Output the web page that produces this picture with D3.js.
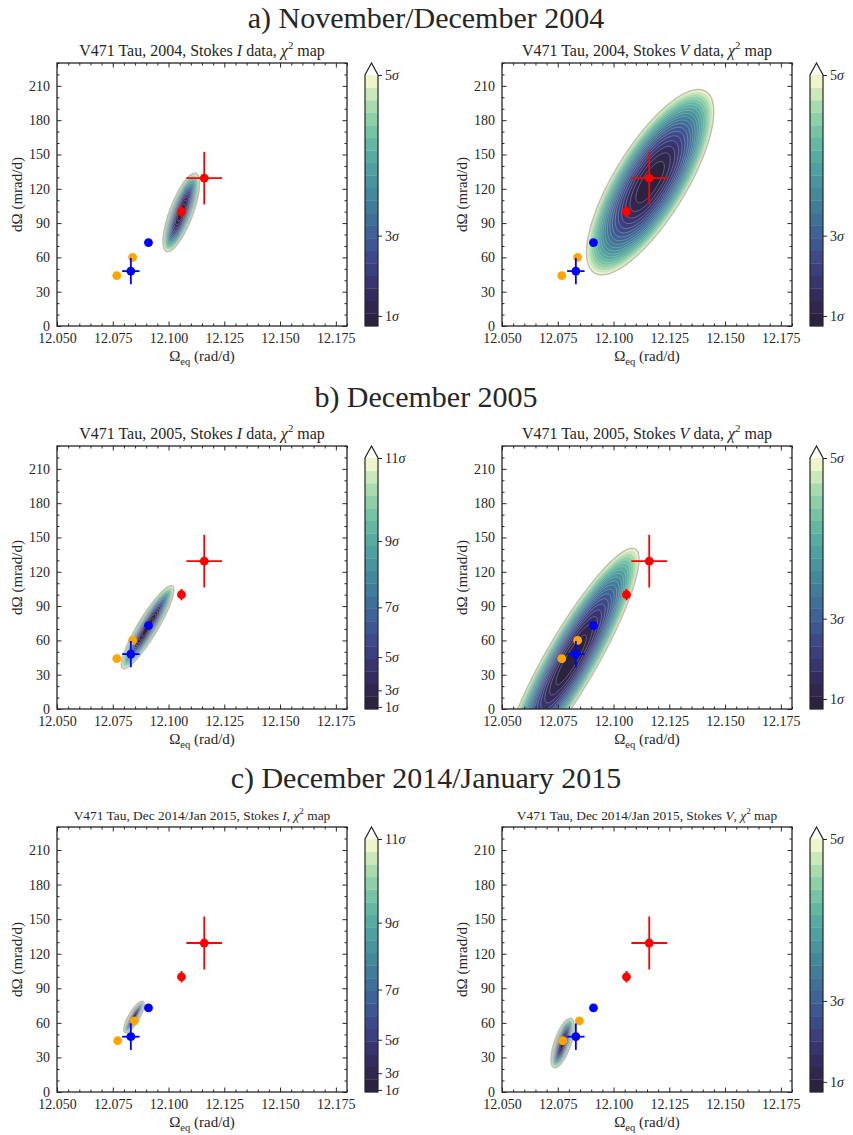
<!DOCTYPE html>
<html><head><meta charset="utf-8">
<script src="https://cdn.jsdelivr.net/npm/d3@7"></script>
<style>
body{margin:0;background:#fff}
svg text{font-family:"Liberation Serif","DejaVu Serif",serif;fill:#262626}
</style>
</head><body>
<svg id="chart" width="853" height="1135"></svg>
<script>
// ---------------- data ----------------
const sectionTitles = ["a) November/December 2004", "b) December 2005", "c) December 2014/January 2015"];
const panelEpochs = ["2004", "2004", "2005", "2005", "Dec 2014/Jan 2015", "Dec 2014/Jan 2015"];
const panelStokes = ["I", "V", "I", "V", "I", "V"];
const panelMaxSigma = [5, 5, 11, 5, 11, 5];
const colorbarSigmaTicks5 = [1, 3, 5];
const colorbarSigmaTicks11 = [1, 3, 5, 7, 9, 11];

// chi^2 map shapes: best-fit centre, half extent of the outermost contour, correlation
const mapCenterX = [12.1057, 12.1164, 12.0906, 12.0810, 12.0845, 12.0772];
const mapCenterY = [99.3, 125.8, 71.5, 43.0, 65.0, 42.5];
const mapHalfWidthX = [0.0082, 0.0285, 0.01175, 0.0304, 0.0046, 0.0052];
const mapHalfWidthY = [34.3, 81.0, 36.3, 97.5, 13.75, 21.5];
const mapCorrelation = [0.74, 0.76, 0.90, 0.90, 0.80, 0.66];
const nLevels = 20;

// literature measurements (Omega_eq in rad/d, dOmega in mrad/d)
const orangeX = [12.0768, 12.0839];
const orangeY = [44.0, 60.0];
const orangeX2015 = [12.0772, 12.0847];
const orangeY2015 = [44.5, 61.7];
const blueX = [12.0831, 12.0910];
const blueY = [48.0, 73.0];
const blueXErr = [0.0039, 0];
const blueYErr = [11.5, 0];
const redX = [12.1058, 12.1160];
const redY = [100.0, 129.3];
const redXErr = [0.0006, 0.0080];
const redYErr = [5.0, 23.0];

const xDomain = [12.05, 12.18];
const yDomain = [0, 230];
const xMajorTicks = [12.050, 12.075, 12.100, 12.125, 12.150, 12.175];
const yMajorTicks = [0, 30, 60, 90, 120, 150, 180, 210];

// ---------------- style / layout ----------------
const cmapStops = ["#2b2240", "#342a5b", "#3b3b7f", "#3d5393", "#3e6b98", "#42829b", "#4a999f", "#58b0a2", "#77c7a4", "#a8dcac", "#eef6c9"];
const bandColors = d3.quantize(d3.interpolateRgbBasis(cmapStops), nLevels);
const colLeft = [57, 502];
const plotW = 290;
const rowTop = [63, 446, 827];
const rowBottom = [326, 709, 1092];
const sectionBaseline = [28, 407, 788];
const ink = "#262626";
const fontFam = "Liberation Serif";

const svg = d3.select("#chart");

sectionTitles.forEach((t, i) => {
  svg.append("text").attr("x", 426).attr("y", sectionBaseline[i])
    .attr("text-anchor", "middle").attr("font-size", 30).text(t);
});

const xMinor = d3.range(12.050, 12.1801, 0.005).filter(v => !xMajorTicks.some(m => Math.abs(m - v) < 1e-6));
const yMinor = d3.range(0, 231, 10).filter(v => v % 30 !== 0);

function addRich(textSel, parts, fs) {
  parts.forEach(p => {
    const ts = textSel.append("tspan").text(p[0]);
    if (p[1] === "i") ts.attr("font-style", "italic");
    if (p[1] === "sup") ts.attr("font-size", fs * 0.68).attr("dy", -fs * 0.42);
    if (p[1] === "afterSup") ts.attr("dy", fs * 0.42);
    if (p[1] === "sub") ts.attr("font-size", fs * 0.7).attr("dy", fs * 0.25);
    if (p[1] === "afterSub") ts.attr("dy", -fs * 0.25);
  });
}

for (let p = 0; p < 6; p++) {
  const row = Math.floor(p / 2), col = p % 2;
  const x0 = colLeft[col], x1 = x0 + plotW, yT = rowTop[row], yB = rowBottom[row];
  const xs = d3.scaleLinear().domain(xDomain).range([x0, x1]);
  const ys = d3.scaleLinear().domain(yDomain).range([yB, yT]);
  const g = svg.append("g");
  const clipId = "clip" + p;
  g.append("clipPath").attr("id", clipId).append("rect")
    .attr("x", x0).attr("y", yT).attr("width", x1 - x0).attr("height", yB - yT);

  // ---- chi^2 field ----
  const Lmax = panelMaxSigma[p] * panelMaxSigma[p];
  const sx = mapHalfWidthX[p] / Math.sqrt(Lmax), sy = mapHalfWidthY[p] / Math.sqrt(Lmax);
  const rho = mapCorrelation[p];
  const nx = 320, ny = 320;
  const gx0 = 12.045, gx1 = 12.185, gy0 = -30, gy1 = 240;
  const gdx = (gx1 - gx0) / nx, gdy = (gy1 - gy0) / ny;
  const vals = new Float64Array(nx * ny);
  for (let j = 0; j < ny; j++) {
    const y = gy0 + (j + 0.5) * gdy;
    const v = (y - mapCenterY[p]) / sy;
    for (let i = 0; i < nx; i++) {
      const x = gx0 + (i + 0.5) * gdx;
      const u = (x - mapCenterX[p]) / sx;
      vals[j * nx + i] = -(u * u - 2 * rho * u * v + v * v) / (1 - rho * rho);
    }
  }
  const levels = d3.range(1, nLevels + 1).map(k => k * Lmax / nLevels);
  const contourList = d3.contours().size([nx, ny]).thresholds(levels.map(L => -L))(vals);
  // contours come back sorted by threshold; index them by level number
  const contourFor = k => contourList.reduce((best, c) => Math.abs(c.value + levels[k - 1]) < Math.abs(best.value + levels[k - 1]) ? c : best, contourList[0]);
  const proj = d3.geoTransform({
    point: function (cx, cy) { this.stream.point(xs(gx0 + cx * gdx), ys(gy0 + cy * gdy)); }
  });
  const path = d3.geoPath(proj);
  const cg = g.append("g").attr("clip-path", `url(#${clipId})`);
  for (let k = nLevels; k >= 1; k--) {
    cg.append("path").attr("d", path(contourFor(k))).attr("fill", bandColors[k - 1]).attr("stroke", "none");
  }
  for (let k = 1; k <= nLevels; k++) {
    cg.append("path").attr("d", path(contourFor(k))).attr("fill", "none")
      .attr("stroke", k === nLevels ? "#bdbdae" : "#d8d8cc")
      .attr("stroke-opacity", k === nLevels ? 0.95 : 0.4)
      .attr("stroke-width", k === nLevels ? 1.5 : 0.8);
  }

  // ---- points ----
  const oX = row === 2 ? orangeX2015 : orangeX;
  const oY = row === 2 ? orangeY2015 : orangeY;
  const pts = [];
  oX.forEach((x, i) => pts.push({ x, y: oY[i], ex: 0, ey: 0, c: "#ffa500" }));
  blueX.forEach((x, i) => pts.push({ x, y: blueY[i], ex: blueXErr[i], ey: blueYErr[i], c: "#0000ff" }));
  redX.forEach((x, i) => pts.push({ x, y: redY[i], ex: redXErr[i], ey: redYErr[i], c: "#ff0000" }));
  const pg = g.append("g");
  pts.forEach(d => {
    if (d.ex > 0) pg.append("line").attr("x1", xs(d.x - d.ex)).attr("x2", xs(d.x + d.ex))
      .attr("y1", ys(d.y)).attr("y2", ys(d.y)).attr("stroke", d.c).attr("stroke-width", 1.8);
    if (d.ey > 0) pg.append("line").attr("x1", xs(d.x)).attr("x2", xs(d.x))
      .attr("y1", ys(d.y - d.ey)).attr("y2", ys(d.y + d.ey)).attr("stroke", d.c).attr("stroke-width", 1.8);
    pg.append("circle").attr("cx", xs(d.x)).attr("cy", ys(d.y)).attr("r", 4.4).attr("fill", d.c);
  });

  // ---- axes ----
  const styleAxis = a => { a.select(".domain").remove(); a.selectAll("line").attr("stroke", ink).attr("stroke-width", 1); a.selectAll("text").attr("font-family", fontFam).attr("font-size", 14).attr("fill", ink); };
  g.append("g").attr("transform", `translate(0,${yB})`).call(d3.axisBottom(xs).tickValues(xMajorTicks).tickSizeInner(-4.5).tickSizeOuter(0).tickPadding(7).tickFormat(d3.format(".3f"))).call(styleAxis);
  g.append("g").attr("transform", `translate(0,${yB})`).call(d3.axisBottom(xs).tickValues(xMinor).tickSizeInner(-2.5).tickSizeOuter(0).tickFormat("")).call(styleAxis);
  g.append("g").attr("transform", `translate(0,${yT})`).call(d3.axisTop(xs).tickValues(xMajorTicks).tickSizeInner(-4.5).tickSizeOuter(0).tickFormat("")).call(styleAxis);
  g.append("g").attr("transform", `translate(0,${yT})`).call(d3.axisTop(xs).tickValues(xMinor).tickSizeInner(-2.5).tickSizeOuter(0).tickFormat("")).call(styleAxis);
  g.append("g").attr("transform", `translate(${x0},0)`).call(d3.axisLeft(ys).tickValues(yMajorTicks).tickSizeInner(-4.5).tickSizeOuter(0).tickPadding(7).tickFormat(d3.format("d"))).call(styleAxis);
  g.append("g").attr("transform", `translate(${x0},0)`).call(d3.axisLeft(ys).tickValues(yMinor).tickSizeInner(-2.5).tickSizeOuter(0).tickFormat("")).call(styleAxis);
  g.append("g").attr("transform", `translate(${x1},0)`).call(d3.axisRight(ys).tickValues(yMajorTicks).tickSizeInner(-4.5).tickSizeOuter(0).tickFormat("")).call(styleAxis);
  g.append("g").attr("transform", `translate(${x1},0)`).call(d3.axisRight(ys).tickValues(yMinor).tickSizeInner(-2.5).tickSizeOuter(0).tickFormat("")).call(styleAxis);
  g.append("rect").attr("x", x0).attr("y", yT).attr("width", x1 - x0).attr("height", yB - yT)
    .attr("fill", "none").attr("stroke", ink).attr("stroke-width", 1.3);

  // axis labels
  const xl = g.append("text").attr("x", (x0 + x1) / 2).attr("y", yB + 35).attr("text-anchor", "middle").attr("font-size", 15);
  addRich(xl, [["Ω", "n"], ["eq", "sub"], [" (rad/d)", "afterSub"]], 15);
  g.append("text").attr("transform", `translate(${x0 - 35},${(yT + yB) / 2}) rotate(-90)`)
    .attr("text-anchor", "middle").attr("font-size", 15).text("dΩ (mrad/d)");

  // title
  const tfs = row === 2 ? 13.4 : 16;
  const tt = g.append("text").attr("x", (x0 + x1) / 2).attr("y", yT - 7).attr("text-anchor", "middle").attr("font-size", tfs);
  const titleParts = row === 2
    ? [["V471 Tau, " + panelEpochs[p] + ", Stokes ", "n"], [panelStokes[p], "i"], [", ", "n"], ["χ", "i"], ["2", "sup"], [" map", "afterSup"]]
    : [["V471 Tau, " + panelEpochs[p] + ", Stokes ", "n"], [panelStokes[p], "i"], [" data, ", "n"], ["χ", "i"], ["2", "sup"], [" map", "afterSup"]];
  addRich(tt, titleParts, tfs);

  // ---- colorbar ----
  const cbX = x1 + 18, cbW = 13, cbTop = yT + 12;
  const cbs = d3.scaleLinear().domain([0, Lmax]).range([yB, cbTop]);
  const cb = g.append("g");
  levels.forEach((L, k) => {
    const lo = k * Lmax / nLevels;
    cb.append("rect").attr("x", cbX).attr("width", cbW).attr("y", cbs(L)).attr("height", cbs(lo) - cbs(L) + 0.3).attr("fill", bandColors[k]);
  });
  cb.append("path").attr("d", `M${cbX},${yB}L${cbX},${cbTop}L${cbX + cbW / 2},${yT}L${cbX + cbW},${cbTop}L${cbX + cbW},${yB}Z`)
    .attr("fill", "none").attr("stroke", ink).attr("stroke-width", 1.2);
  const sigTicks = panelMaxSigma[p] === 11 ? colorbarSigmaTicks11 : colorbarSigmaTicks5;
  const cbAxis = cb.append("g").attr("transform", `translate(${cbX + cbW},0)`)
    .call(d3.axisRight(cbs).tickValues(sigTicks.map(s => s * s)).tickSizeInner(4).tickSizeOuter(0).tickPadding(3).tickFormat(""))
    .call(styleAxis);
  cbAxis.selectAll(".tick text").each(function (d) {
    const t = d3.select(this);
    t.text(null);
    t.append("tspan").text(String(Math.round(Math.sqrt(d))));
    t.append("tspan").attr("font-style", "italic").text("σ");
  });
}
</script>
</body></html>
